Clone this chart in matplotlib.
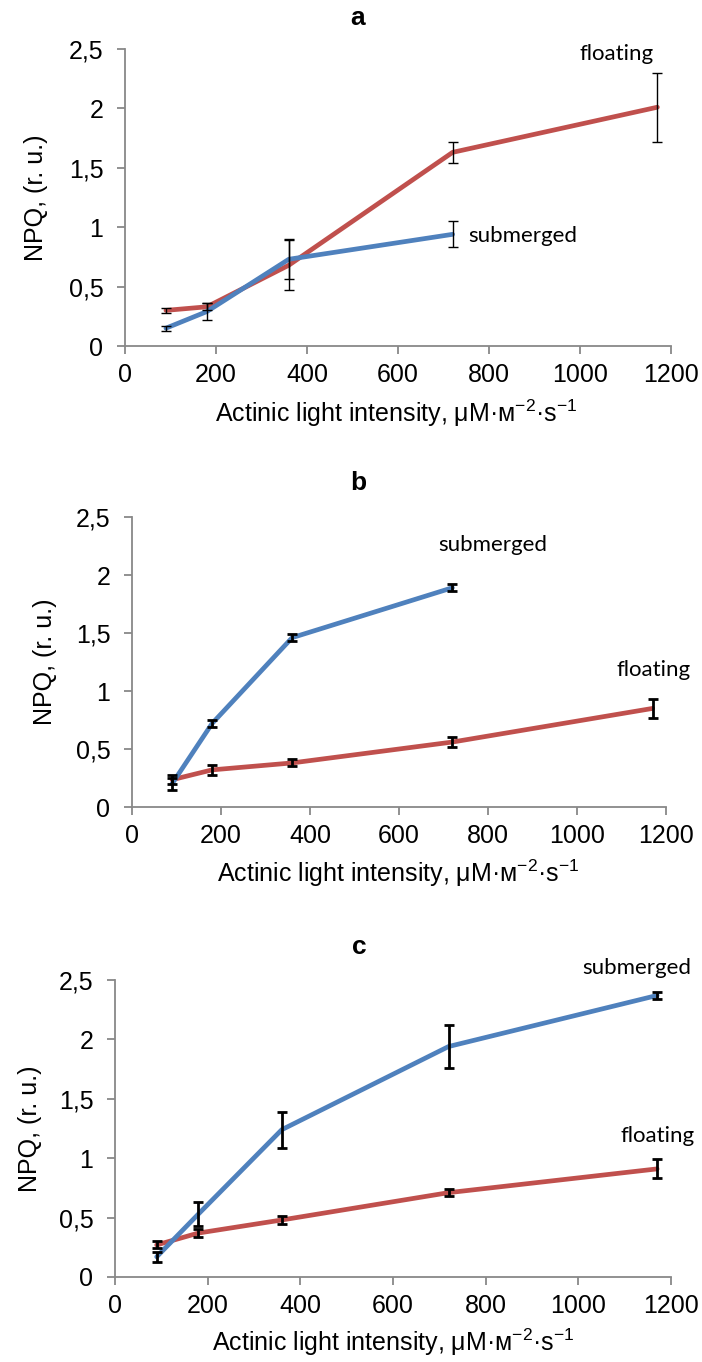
import matplotlib
matplotlib.use("Agg")
import matplotlib.pyplot as plt

plt.rcParams["mathtext.fontset"] = "custom"
plt.rcParams["mathtext.rm"] = "Liberation Sans"
plt.rcParams["mathtext.it"] = "Liberation Sans:italic"
plt.rcParams["mathtext.bf"] = "Liberation Sans:bold"

x = [90, 180, 360, 720, 1170]
x_sub_ab = [90, 180, 360, 720]

# Panel a
a_float = [0.30, 0.33, 0.68, 1.63, 2.01]
a_float_err = [0.02, 0.03, 0.21, 0.09, 0.29]
a_sub = [0.15, 0.29, 0.73, 0.94]
a_sub_err = [0.02, 0.07, 0.17, 0.11]

# Panel b
b_float = [0.235, 0.32, 0.38, 0.56, 0.85]
b_float_err = [0.04, 0.04, 0.03, 0.04, 0.08]
b_sub = [0.20, 0.72, 1.46, 1.89]
b_sub_err = [0.05, 0.03, 0.03, 0.03]

# Panel c
c_float = [0.27, 0.37, 0.48, 0.71, 0.91]
c_float_err = [0.03, 0.03, 0.03, 0.03, 0.08]
c_sub = [0.17, 0.53, 1.24, 1.94, 2.37]
c_sub_err = [0.04, 0.10, 0.15, 0.18, 0.03]

yticks = [0, 0.5, 1, 1.5, 2, 2.5]
ytick_labels = ["0", "0,5", "1", "1,5", "2", "2,5"]
xticks = [0, 200, 400, 600, 800, 1000, 1200]
xtick_labels = ["0", "200", "400", "600", "800", "1000", "1200"]

titles = ["a", "b", "c"]
xlabel = "Actinic light intensity, μM·м$^{-2}$·s$^{-1}$"
ylabel = "NPQ, (r. u.)"

RED = "#C0504D"
BLUE = "#4F81BD"
AXC = "#888888"
ARIAL = ["Liberation Sans", "DejaVu Sans"]
ANN = ["Lato", "DejaVu Sans"]

W, H = 702, 1362
fig = plt.figure(figsize=(W / 100, H / 100), dpi=100)

# pixel layout: (left, right, top, bottom), title (x, y), xlabel (x, y), ylabel x
layout = [
    dict(box=(125, 671, 49, 346), title=(358, 18), xl=(396, 413), yl=36),
    dict(box=(132, 666, 517, 807), title=(358, 483), xl=(398, 873), yl=45),
    dict(box=(115, 671, 980, 1277), title=(359, 947), xl=(393, 1342), yl=30),
]

panels = [
    (x, a_float, a_float_err, x_sub_ab, a_sub, a_sub_err, 1.0),
    (x, b_float, b_float_err, x_sub_ab, b_sub, b_sub_err, 2.0),
    (x, c_float, c_float_err, x, c_sub, c_sub_err, 2.0),
]

annotations = [
    [("floating", 1081, 2.46, "center"), ("submerged", 754, 0.93, "left")],
    [("submerged", 811, 2.26, "center"), ("floating", 1173, 1.18, "center")],
    [("submerged", 1126, 2.60, "center"), ("floating", 1170, 1.19, "center")],
]

for i, (lay, pan, anns) in enumerate(zip(layout, panels, annotations)):
    l, r, t, b = lay["box"]
    ax = fig.add_axes([l / W, 1 - b / H, (r - l) / W, (b - t) / H])
    xf, yf, ef, xs, ys, es, elw = pan
    ax.plot(xf, yf, color=RED, lw=3.4, solid_capstyle="round",
            solid_joinstyle="round", zorder=3)
    ax.plot(xs, ys, color=BLUE, lw=3.4, solid_capstyle="round",
            solid_joinstyle="round", zorder=4)
    ax.errorbar(xf, yf, yerr=ef, fmt="none", ecolor="black", elinewidth=elw,
                capsize=3.3, capthick=elw, zorder=5)
    ax.errorbar(xs, ys, yerr=es, fmt="none", ecolor="black", elinewidth=elw,
                capsize=3.3, capthick=elw, zorder=5)
    ax.set_xlim(0, 1200)
    ax.set_ylim(0, 2.5)
    ax.set_xticks(xticks)
    ax.set_xticklabels(xtick_labels, fontfamily=ARIAL, fontsize=18)
    ax.set_yticks(yticks)
    ax.set_yticklabels(ytick_labels, fontfamily=ARIAL, fontsize=18)
    for s in ["top", "right"]:
        ax.spines[s].set_visible(False)
    for s in ["left", "bottom"]:
        ax.spines[s].set_color(AXC)
        ax.spines[s].set_linewidth(1.3)
    ax.tick_params(axis="both", direction="out", length=5.5, width=1.3,
                   color=AXC, labelcolor="black")
    ax.tick_params(axis="x", pad=6.5)
    ax.tick_params(axis="y", pad=10)
    ax.set_xlabel(xlabel, fontfamily=ARIAL, fontsize=18, va="center")
    ax.set_ylabel(ylabel, fontfamily=ARIAL, fontsize=18, va="center")
    xlx, xly = lay["xl"]
    ax.xaxis.set_label_coords((xlx - l) / (r - l), (b - xly) / (b - t))
    ax.yaxis.set_label_coords((lay["yl"] - l) / (r - l), 0.5)
    tx, ty = lay["title"]
    fig.text(tx / W, 1 - ty / H, titles[i], ha="center", va="center",
             fontfamily=ARIAL, fontsize=19, fontweight="bold")
    ax.patch.set_visible(False)
    for txt, px, py, ha in anns:
        ax.text(px, py, txt, ha=ha, va="center", fontsize=16,
                fontfamily=ANN, clip_on=False)

fig.savefig("out.png", dpi=100, facecolor="white")
